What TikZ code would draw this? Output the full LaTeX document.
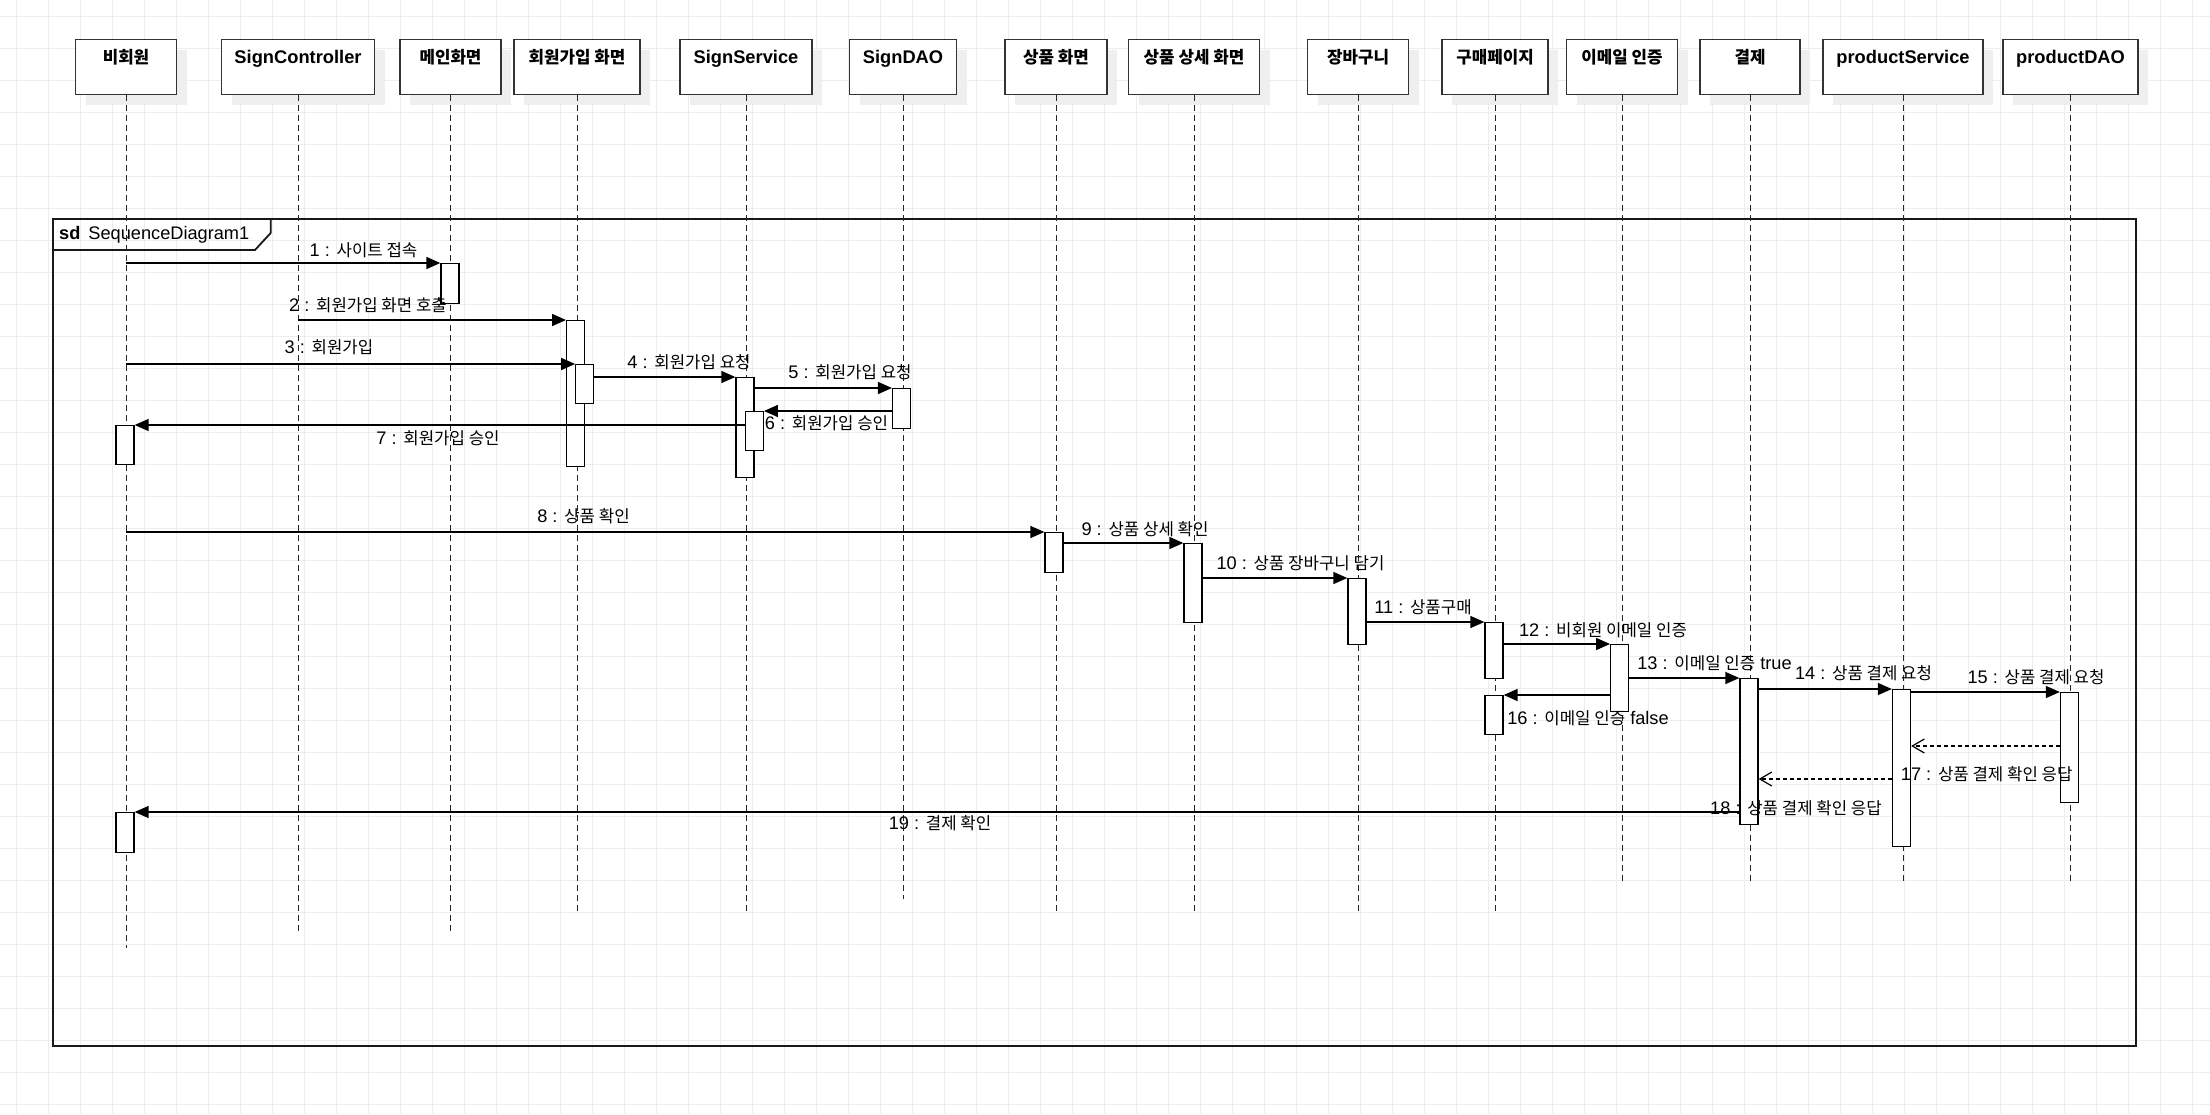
\documentclass[tikz,border=0pt]{standalone}
\usepackage{fontspec}
\setmainfont{Liberation Sans}
\newfontfamily\krfont[Scale=0.92]{Noto Sans CJK KR}
\newcommand{\kr}[1]{{\krfont #1}}
\usetikzlibrary{arrows.meta, shadows}
\definecolor{gridGray}{HTML}{EDEDED}
\definecolor{boxLine}{HTML}{333333}
\definecolor{shadowGray}{HTML}{EFEFEF}

\begin{document}
\begin{tikzpicture}[x=1pt, y=-1pt,
      gridline/.style={draw=gridGray, line width=1pt},
      frame/.style={draw=black!90, line width=1.8pt},
      lifehead/.style={draw=boxLine, line width=1.4pt, fill=white, anchor=north,
                 minimum height=55pt, inner ysep=0pt, text height=24pt, text depth=31pt,
                 font=\fontsize{18.3}{21}\selectfont\bfseries,
                 drop shadow={shadow xshift=10pt, shadow yshift=-10pt, fill=shadowGray, opacity=1}},
      lifeline/.style={draw=black!85, line width=0.9pt, dash pattern=on 6pt off 4pt},
      actbar/.style={draw=black, line width=1.3pt, fill=white, anchor=north,
                 minimum width=18pt, inner sep=0pt},
      msg/.style={line width=1.5pt, -{Triangle[length=14pt, width=12pt]}},
      reply/.style={line width=1.2pt, dash pattern=on 4pt off 3pt,
                 -{Straight Barb[length=12pt, width=14pt, line width=1.2pt]}},
      msglabel/.style={anchor=base, inner sep=0pt, font=\fontsize{18.2}{21}\selectfont}]
    \useasboundingbox (0,0) rectangle (2210,1114);
    \fill[white] (0,0) rectangle (2210,1114);
    \foreach \gx in {16,48,...,2208} \draw[gridline] (\gx,0) -- (\gx,1114);
    \foreach \gy in {16,48,...,1104} \draw[gridline] (0,\gy) -- (2210,\gy);

    % frame
    \draw[frame] (52.7,219.3) rectangle (2136,1046);
    \draw[frame] (52.7,250) -- (255,250) -- (270.7,233) -- (270.7,219.3);
    \node[anchor=base west, inner sep=0pt, font=\fontsize{18.2}{21}\selectfont]
      (sdTag) at (59,239) {\textbf{sd}\hspace{8pt}SequenceDiagram1};

    % lifeline heads
    \node[lifehead, minimum width=101pt] (hGuest)      at (126,39)    {\kr{비회원}};
    \node[lifehead, minimum width=153pt] (hSignCtrl)   at (298,39)    {SignController};
    \node[lifehead, minimum width=101pt] (hMain)       at (450.5,39)  {\kr{메인화면}};
    \node[lifehead, minimum width=126pt] (hJoinView)   at (577,39)    {\kr{회원가입 화면}};
    \node[lifehead, minimum width=132pt] (hSignSvc)    at (746,39)    {SignService};
    \node[lifehead, minimum width=107pt] (hSignDao)    at (903,39)    {SignDAO};
    \node[lifehead, minimum width=102pt] (hItemView)   at (1056,39)   {\kr{상품 화면}};
    \node[lifehead, minimum width=131pt] (hItemDetail) at (1194,39)   {\kr{상품 상세 화면}};
    \node[lifehead, minimum width=101pt] (hCart)       at (1358,39)   {\kr{장바구니}};
    \node[lifehead, minimum width=106pt] (hBuy)        at (1495,39)   {\kr{구매페이지}};
    \node[lifehead, minimum width=111pt] (hMail)       at (1622,39)   {\kr{이메일 인증}};
    \node[lifehead, minimum width=100pt] (hPay)        at (1750,39)   {\kr{결제}};
    \node[lifehead, minimum width=160pt] (hProdSvc)    at (1903,39)   {productService};
    \node[lifehead, minimum width=135pt] (hProdDao)    at (2070.5,39) {productDAO};

    \draw[lifeline] (hGuest.south)      -- ++(0,853);
    \draw[lifeline] (hSignCtrl.south)   -- ++(0,838);
    \draw[lifeline] (hMain.south)       -- ++(0,838);
    \draw[lifeline] (hJoinView.south)   -- ++(0,819);
    \draw[lifeline] (hSignSvc.south)    -- ++(0,819);
    \draw[lifeline] (hSignDao.south)    -- ++(0,804);
    \draw[lifeline] (hItemView.south)   -- ++(0,819);
    \draw[lifeline] (hItemDetail.south) -- ++(0,819);
    \draw[lifeline] (hCart.south)       -- ++(0,819);
    \draw[lifeline] (hBuy.south)        -- ++(0,819);
    \draw[lifeline] (hMail.south)       -- ++(0,786);
    \draw[lifeline] (hPay.south)        -- ++(0,786);
    \draw[lifeline] (hProdSvc.south)    -- ++(0,786);
    \draw[lifeline] (hProdDao.south)    -- ++(0,786);

    % activations
    \node[actbar, minimum height=40pt]  (a1)  at (450,263)    {};
    \node[actbar, minimum height=146pt] (a2)  at (575.7,320)  {};
    \node[actbar, minimum height=39pt]  (a3)  at (584.8,364)  {};
    \node[actbar, minimum height=100pt] (a4)  at (745,377)    {};
    \node[actbar, minimum height=40pt]  (a5)  at (901.6,388)  {};
    \node[actbar, minimum height=39pt]  (a6)  at (754.3,411)  {};
    \node[actbar, minimum height=39pt]  (a7)  at (125,425)    {};
    \node[actbar, minimum height=40pt]  (a8)  at (1054,532)   {};
    \node[actbar, minimum height=79pt]  (a9)  at (1193,543)   {};
    \node[actbar, minimum height=66pt]  (a10) at (1357,578)   {};
    \node[actbar, minimum height=56pt]  (a11) at (1494,622)   {};
    \node[actbar, minimum height=67pt]  (a12) at (1619.7,644) {};
    \node[actbar, minimum height=146pt] (a13) at (1749,678)   {};
    \node[actbar, minimum height=157pt] (a14) at (1901.5,689) {};
    \node[actbar, minimum height=110pt] (a15) at (2069.5,692) {};
    \node[actbar, minimum height=39pt]  (a16) at (1494,695)   {};
    \node[actbar, minimum height=40pt]  (a17) at (125,812)    {};

    % messages
    \draw[msg] (hGuest.south |- a1.north)    -- (a1.north west);
    \draw[msg] (hSignCtrl.south |- a2.north) -- (a2.north west);
    \draw[msg] (hGuest.south |- a3.north)    -- (a3.north west);
    \draw[msg] (a3.east |- a4.north)         -- (a4.north west);
    \draw[msg] (a4.east |- a5.north)         -- (a5.north west);
    \draw[msg] (a5.west |- a6.north)         -- (a6.north east);
    \draw[msg] (a6.west |- a7.north)         -- (a7.north east);
    \draw[msg] (hGuest.south |- a8.north)    -- (a8.north west);
    \draw[msg] (a8.east |- a9.north)         -- (a9.north west);
    \draw[msg] (a9.east |- a10.north)        -- (a10.north west);
    \draw[msg] (a10.east |- a11.north)       -- (a11.north west);
    \draw[msg] (a11.east |- a12.north)       -- (a12.north west);
    \draw[msg] (a12.east |- a13.north)       -- (a13.north west);
    \draw[msg] (a13.east |- a14.north)       -- (a14.north west);
    \draw[msg] (a14.east |- a15.north)       -- (a15.north west);
    \draw[msg] (a12.west |- a16.north)       -- (a16.north east);
    \coordinate (r17) at (0,746);
    \coordinate (r18) at (0,779);
    \draw[reply] (a15.west |- r17) -- (a14.east |- r17);
    \draw[reply] (a14.west |- r18) -- (a13.east |- r18);
    \draw[msg] (a13.west |- a17.north)       -- (a17.north east);

    % message labels
    \node[msglabel] (t1)  at (363.5,256)  {1 : \kr{사이트 접속}};
    \node[msglabel] (t2)  at (368,311)    {2 : \kr{회원가입 화면 호출}};
    \node[msglabel] (t3)  at (329,353)    {3 : \kr{회원가입}};
    \node[msglabel] (t4)  at (689,368)    {4 : \kr{회원가입 요청}};
    \node[msglabel] (t5)  at (850,378)    {5 : \kr{회원가입 요청}};
    \node[msglabel] (t6)  at (826.5,429)  {6 : \kr{회원가입 승인}};
    \node[msglabel] (t7)  at (438,444)    {7 : \kr{회원가입 승인}};
    \node[msglabel] (t8)  at (583.5,522)  {8 : \kr{상품 확인}};
    \node[msglabel] (t9)  at (1145,535)   {9 : \kr{상품 상세 확인}};
    \node[msglabel] (t10) at (1300.5,569) {10 : \kr{상품 장바구니 담기}};
    \node[msglabel] (t11) at (1423,613)   {11 : \kr{상품구매}};
    \node[msglabel] (t12) at (1603,636)   {12 : \kr{비회원 이메일 인증}};
    \node[msglabel] (t13) at (1714.5,669) {13 : \kr{이메일 인증} true};
    \node[msglabel] (t14) at (1863.5,679) {14 : \kr{상품 결제 요청}};
    \node[msglabel] (t15) at (2036,683)   {15 : \kr{상품 결제 요청}};
    \node[msglabel] (t16) at (1588,724)   {16 : \kr{이메일 인증} false};
    \node[msglabel] (t17) at (1986.7,780) {17 : \kr{상품 결제 확인 응답}};
    \node[msglabel] (t18) at (1796,814)   {18 : \kr{상품 결제 확인 응답}};
    \node[msglabel] (t19) at (940,829)    {19 : \kr{결제 확인}};
  \end{tikzpicture}
\end{document}
